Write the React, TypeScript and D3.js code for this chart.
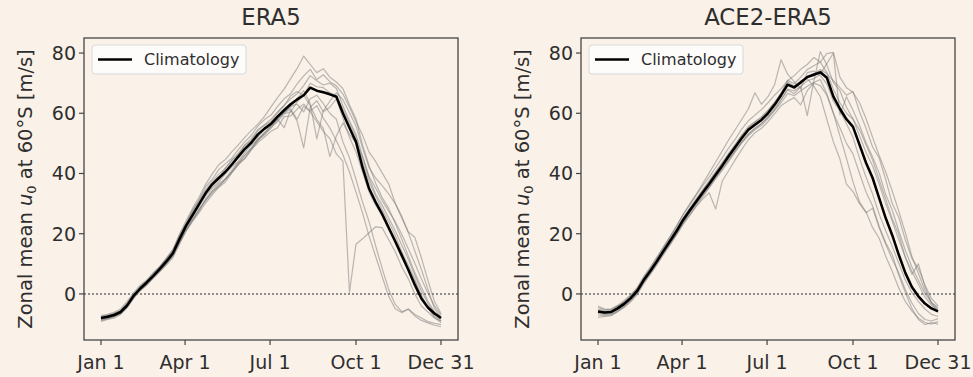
import React from "react";
import * as d3 from "d3";

// ---- Data ----
// Sample days: every 7 days from Jan 1, plus Dec 31 (day 364)
const SAMPLE_DAYS: number[] = [...d3.range(0, 358, 7), 364];

const X_TICK_DAYS = [0, 90, 181, 273, 364];
const X_TICK_LABELS = ["Jan 1", "Apr 1", "Jul 1", "Oct 1", "Dec 31"];
const Y_TICKS = [0, 20, 40, 60, 80];

const PANEL_TITLES = ["ERA5", "ACE2-ERA5"];

const ERA5_CLIM = [-8.0,-7.6,-7.0,-6.0,-3.8,-0.6,1.8,3.8,6.0,8.3,10.8,13.5,18.2,22.6,26.2,29.8,33.5,36.4,38.5,40.5,43.0,45.6,48.2,50.3,53.0,54.9,56.5,58.9,61.0,63.0,64.6,66.0,68.5,67.5,67.0,66.3,65.5,60.0,55.2,50.5,42.0,35.0,30.5,26.5,22.0,17.5,12.8,8.0,3.0,-1.5,-4.5,-6.5,-8.0];

const ERA5_M1 = [-7.2,-6.8,-6.1,-5.0,-2.5,0.4,2.9,4.6,7.1,9.0,11.9,14.8,19.5,23.4,27.8,31.2,35.6,38.0,41.3,43.2,45.1,47.9,50.5,52.7,55.8,57.9,59.4,62.3,64.8,66.5,69.8,72.4,74.6,71.2,72.8,70.5,69.1,66.4,62.0,57.3,52.8,47.1,44.0,40.2,36.5,30.1,25.8,20.4,14.2,8.1,1.5,-4.8,-7.9];
const ERA5_M2 = [-9.1,-8.5,-8.0,-6.8,-4.6,-1.5,1.0,2.9,5.2,7.4,9.6,12.1,16.5,20.8,24.1,27.0,30.2,32.9,35.4,37.1,40.2,42.8,45.0,47.9,50.3,52.1,54.0,55.2,58.9,59.1,61.4,63.0,60.8,62.5,58.4,55.1,50.9,46.2,40.5,33.8,26.9,19.2,12.5,5.8,-0.8,-4.9,-6.2,-5.1,-7.3,-8.8,-9.6,-10.4,-10.9];
const ERA5_M3 = [-8.4,-8.0,-7.5,-6.3,-4.2,-0.8,1.5,3.3,5.6,8.0,10.2,13.0,17.6,22.0,25.5,29.0,32.6,35.1,37.2,39.8,42.1,44.0,46.9,49.5,51.2,52.8,55.0,57.9,60.2,61.4,58.0,62.3,60.5,57.2,54.0,51.6,46.5,44.0,0.5,16.5,18.3,20.3,22.3,22.0,18.0,14.0,9.0,5.0,0.0,-4.0,-6.0,-8.0,-9.0];
const ERA5_M4 = [-7.5,-7.1,-6.4,-5.5,-3.0,0.0,2.4,4.4,6.8,9.2,11.8,14.6,19.8,24.2,28.4,32.1,36.4,39.8,42.9,44.6,47.2,49.5,52.0,54.3,56.4,59.0,62.1,65.2,68.0,71.5,74.9,79.0,76.2,73.5,74.8,72.0,70.4,68.2,62.8,58.1,49.5,42.6,36.8,32.0,28.4,23.5,18.2,12.6,7.0,2.2,-2.4,-6.0,-7.6];
const ERA5_M5 = [-8.6,-8.1,-7.4,-6.4,-4.1,-1.2,1.2,3.2,5.4,7.6,10.0,12.8,17.1,21.3,24.4,28.0,31.2,34.0,35.6,38.0,40.4,43.5,44.9,48.0,50.8,53.6,56.0,58.0,55.2,61.0,57.4,48.5,62.0,64.2,60.5,62.0,64.8,58.4,52.0,47.2,40.5,33.8,29.5,26.0,21.4,16.8,12.0,8.6,4.2,-1.0,-4.5,-7.2,-9.0];
const ERA5_M6 = [-7.9,-7.4,-6.8,-5.9,-3.6,-0.4,2.0,4.0,6.2,8.6,11.2,13.9,18.6,22.9,26.9,30.2,33.0,35.8,38.2,41.8,44.6,46.2,49.5,51.0,54.2,56.0,57.3,60.1,62.5,65.8,67.2,66.0,62.5,58.0,55.0,45.6,52.5,56.8,53.0,50.2,45.5,39.0,35.2,31.0,27.5,24.0,19.8,15.0,10.2,5.0,0.2,-4.0,-7.0];
const ERA5_M7 = [-8.2,-7.8,-7.2,-6.1,-3.9,-0.7,1.6,3.6,5.8,8.1,10.5,13.2,17.9,22.4,25.8,29.4,33.2,36.0,37.9,40.1,42.5,45.0,47.6,49.8,52.1,54.6,56.0,58.1,60.5,62.0,64.8,67.5,63.2,51.5,60.8,64.0,66.8,64.5,60.2,55.8,48.5,42.0,38.5,36.0,33.2,30.0,25.2,20.6,18.8,12.0,4.5,-2.5,-6.5];
const ERA5_M8 = [-8.8,-8.3,-7.6,-6.6,-4.4,-1.0,1.4,3.4,5.6,7.9,10.4,13.0,17.5,21.6,24.8,28.2,31.0,33.5,36.0,38.0,40.5,43.0,46.0,48.4,51.5,53.5,55.6,58.5,60.0,62.4,63.0,60.5,64.8,66.0,63.2,60.0,58.0,50.5,45.2,38.0,30.5,24.0,16.0,8.5,1.5,-3.5,-5.9,-5.0,-6.8,-8.0,-9.2,-9.8,-10.2];
const ERA5_M9 = [-7.6,-7.2,-6.6,-5.6,-3.4,-0.2,2.2,4.2,6.5,8.8,11.4,14.2,19.0,23.4,27.5,31.0,34.6,37.2,39.8,41.6,44.2,46.8,49.4,51.6,54.6,56.2,58.0,60.5,62.6,64.8,66.5,69.2,72.5,70.8,69.4,70.0,68.2,62.5,57.5,53.0,45.8,38.5,33.2,29.5,25.2,21.0,16.2,11.5,6.2,1.0,-3.2,-6.4,-8.4];
const ERA5_M10 = [-8.3,-7.9,-7.3,-6.3,-4.0,-0.9,1.4,3.5,5.7,7.8,10.2,12.6,17.0,21.0,24.6,27.5,31.5,34.2,36.6,38.2,41.0,43.6,46.0,48.5,51.2,53.2,55.4,57.2,59.8,60.5,63.8,66.0,70.0,68.8,68.5,66.8,66.0,61.4,56.8,52.2,44.0,37.2,32.5,28.0,24.0,19.5,14.0,9.5,4.8,-0.5,-4.6,-7.8,-9.5];

const ACE_CLIM = [-5.8,-6.2,-6.0,-4.8,-3.3,-1.4,1.0,4.6,7.6,10.8,14.2,17.5,20.8,24.5,27.6,30.6,33.6,36.5,39.6,42.6,45.8,48.8,51.8,54.5,56.2,57.8,60.0,62.8,66.0,69.5,68.6,70.2,72.0,72.8,73.6,71.8,65.5,61.5,58.0,55.5,49.5,43.5,38.5,31.8,25.2,19.5,13.0,7.0,2.3,-0.8,-3.2,-4.8,-5.8];

const ACE_M1 = [-4.5,-5.2,-5.0,-3.8,-2.2,-0.3,2.2,5.8,8.9,12.2,15.6,19.0,22.6,26.2,29.5,32.8,35.9,38.8,42.0,45.2,48.5,51.4,54.8,57.5,59.4,61.2,63.5,66.0,68.2,70.8,72.5,74.6,76.2,78.5,77.0,79.8,80.2,72.0,68.5,67.0,63.5,58.2,52.0,46.0,40.5,34.2,27.5,20.4,12.5,6.8,1.2,-2.8,-4.5];
const ACE_M2 = [-7.8,-7.5,-7.2,-5.9,-4.5,-2.6,-0.2,3.4,6.5,9.6,13.0,16.2,19.5,23.0,26.0,29.0,31.5,33.6,28.2,37.5,41.0,44.6,48.0,51.2,53.5,55.0,57.2,59.8,62.5,64.0,65.2,62.8,67.5,70.0,69.2,66.0,60.0,52.5,45.0,37.2,30.5,27.2,22.0,18.5,12.5,7.5,2.0,-2.5,-5.6,-8.0,-9.5,-10.0,-9.2];
const ACE_M3 = [-5.0,-5.6,-5.4,-4.2,-2.6,-0.6,1.8,5.4,8.6,11.9,15.5,19.0,22.4,26.4,29.8,33.0,36.6,40.2,43.8,47.5,51.2,54.6,58.0,61.5,66.8,63.0,65.5,69.5,77.8,73.0,70.5,68.2,73.5,74.0,72.5,69.8,64.0,60.8,56.5,52.0,45.0,38.8,33.2,26.5,21.0,15.8,10.2,4.6,0.5,-2.5,-5.0,-6.8,-7.5];
const ACE_M4 = [-6.2,-6.6,-6.4,-5.2,-3.6,-1.8,0.6,4.2,7.2,10.4,13.8,17.0,20.4,24.0,27.0,30.0,33.0,35.8,38.8,41.8,44.8,47.8,50.6,53.2,55.0,56.5,58.8,61.0,64.5,67.8,66.5,68.8,59.2,70.5,80.5,76.0,70.2,67.5,62.0,58.2,52.5,47.0,42.5,36.5,30.0,24.2,18.0,12.2,7.5,3.2,-1.0,-3.8,-5.4];
const ACE_M5 = [-6.5,-6.9,-6.7,-5.5,-4.0,-2.0,0.4,4.0,7.0,10.2,13.6,16.8,20.0,23.6,26.8,29.8,32.6,35.5,38.6,41.5,44.6,47.6,50.4,53.0,55.0,56.6,58.8,61.8,64.5,68.0,67.4,69.0,70.8,71.5,73.0,76.5,80.0,59.5,65.5,61.0,56.0,50.2,45.5,40.2,33.0,27.8,21.0,14.5,9.0,4.5,0.2,-3.0,-5.0];
const ACE_M6 = [-5.5,-5.9,-5.7,-4.5,-3.0,-1.0,1.4,5.0,8.0,11.4,14.8,18.2,21.5,25.2,28.4,31.6,34.6,37.5,40.6,43.6,46.8,49.8,52.8,55.6,57.2,58.8,61.0,63.5,66.8,70.5,69.0,70.8,71.5,69.0,65.5,58.0,50.5,44.8,36.5,34.0,30.0,27.0,28.5,22.0,16.5,11.5,7.0,1.5,-3.0,-6.5,-8.5,-9.0,-8.2];
const ACE_M7 = [-6.0,-6.4,-6.2,-5.0,-3.5,-1.6,0.8,4.4,7.4,10.6,14.0,17.4,20.8,24.5,27.5,30.4,33.4,36.4,39.4,42.4,45.6,48.6,51.6,54.2,56.0,57.6,60.0,62.6,65.8,69.2,68.2,70.0,72.2,73.0,74.5,73.2,70.8,68.5,66.0,67.2,60.5,55.0,48.8,45.2,38.0,30.0,25.5,18.0,11.8,8.5,3.0,-1.5,-4.0];
const ACE_M8 = [-7.0,-7.3,-7.0,-5.8,-4.2,-2.2,0.2,3.8,6.8,10.0,13.4,16.6,19.8,23.4,26.2,29.2,32.2,35.2,38.2,41.0,44.0,47.2,50.2,52.6,54.5,56.0,58.2,61.0,63.5,66.6,65.8,67.5,69.0,70.2,71.2,66.5,60.0,55.2,50.0,46.5,40.0,33.8,29.2,22.5,17.0,13.0,6.2,0.5,-4.8,-8.5,-10.2,-9.5,-10.0];
const ACE_M9 = [-5.6,-6.0,-5.8,-4.6,-3.1,-1.2,1.2,4.8,7.8,11.0,14.4,17.8,21.0,24.8,27.8,30.8,33.8,36.8,39.8,42.8,46.0,49.0,52.0,54.8,56.4,58.0,60.2,63.0,66.2,69.8,68.8,70.5,72.4,73.2,74.0,72.2,66.0,62.0,58.5,56.0,50.0,44.0,39.0,32.2,25.5,20.0,13.5,7.5,2.8,-0.5,-3.0,-4.6,-5.6];
const ACE_M10 = [-4.0,-5.0,-5.2,-4.0,-2.8,-0.8,1.6,5.2,8.2,11.4,14.8,18.2,21.6,25.2,28.2,31.2,34.4,37.4,40.4,43.4,46.4,49.4,52.6,55.2,57.0,58.6,60.8,63.6,66.5,71.0,69.8,72.0,74.5,75.8,77.0,73.5,68.0,63.5,60.0,58.0,54.5,49.5,44.5,38.0,31.5,25.0,19.8,12.2,6.5,10.0,2.5,-3.0,-6.0];

const ERA5_MEMBERS = [ERA5_M1, ERA5_M2, ERA5_M3, ERA5_M4, ERA5_M5, ERA5_M6, ERA5_M7, ERA5_M8, ERA5_M9, ERA5_M10];
const ACE_MEMBERS = [ACE_M1, ACE_M2, ACE_M3, ACE_M4, ACE_M5, ACE_M6, ACE_M7, ACE_M8, ACE_M9, ACE_M10];

// ---- Layout ----
const W = 973;
const H = 377;
const FRAME_TOP = 38;
const FRAME_BOTTOM = 340;
const PANEL_LEFTS = [84, 581];
const PANEL_WIDTH = 374;
const BG = "#faf1e8";
const TEXT = "#2e2e2e";
const FONT = "DejaVu Sans, sans-serif";

type PanelProps = { left: number; title: string; clim: number[]; members: number[][] };

function Panel({ left, title, clim, members }: PanelProps) {
  const x = d3.scaleLinear().domain([-18.2, 382.2]).range([left, left + PANEL_WIDTH]);
  const y = d3.scaleLinear().domain([-15.3, 85]).range([FRAME_BOTTOM, FRAME_TOP]);
  const line = d3
    .line<number>()
    .defined((v) => v != null && !isNaN(v))
    .x((_, i) => x(SAMPLE_DAYS[i]))
    .y((v) => y(v));
  const clipId = `clip-${left}`;
  const right = left + PANEL_WIDTH;
  const cx = (left + right) / 2;
  const cy = (FRAME_TOP + FRAME_BOTTOM) / 2;
  return (
    <g>
      <defs>
        <clipPath id={clipId}>
          <rect x={left} y={FRAME_TOP} width={PANEL_WIDTH} height={FRAME_BOTTOM - FRAME_TOP} />
        </clipPath>
      </defs>
      <text x={cx} y={25} textAnchor="middle" fontSize={22.8} fill={TEXT} fontFamily={FONT}>
        {title}
      </text>
      <g clipPath={`url(#${clipId})`}>
        <line x1={left} x2={right} y1={y(0)} y2={y(0)} stroke="#6e6e6e" strokeWidth={1.4} strokeDasharray="2,2" />
        {members.map((m, k) => (
          <path key={k} d={line(m.slice(0, SAMPLE_DAYS.length)) || ""} fill="none" stroke="#7a7a7a" strokeOpacity={0.5} strokeWidth={1.2} strokeLinejoin="round" />
        ))}
        <path d={line(clim) || ""} fill="none" stroke="#000" strokeWidth={2.5} strokeLinejoin="round" />
      </g>
      <rect x={left} y={FRAME_TOP} width={PANEL_WIDTH} height={FRAME_BOTTOM - FRAME_TOP} fill="none" stroke="#454545" strokeWidth={1.3} />
      {Y_TICKS.map((t) => (
        <g key={t}>
          <line x1={left - 5} x2={left} y1={y(t)} y2={y(t)} stroke="#454545" strokeWidth={1.2} />
          <text x={left - 8} y={y(t)} dy="0.36em" textAnchor="end" fontSize={19} fill={TEXT} fontFamily={FONT}>
            {t}
          </text>
        </g>
      ))}
      {X_TICK_DAYS.map((d, i) => (
        <g key={d}>
          <line x1={x(d)} x2={x(d)} y1={FRAME_BOTTOM} y2={FRAME_BOTTOM + 5} stroke="#454545" strokeWidth={1.2} />
          <text x={x(d)} y={369} textAnchor="middle" fontSize={19} fill={TEXT} fontFamily={FONT}>
            {X_TICK_LABELS[i]}
          </text>
        </g>
      ))}
      <text
        transform={`translate(${left - 52},${cy}) rotate(-90)`}
        textAnchor="middle"
        fontSize={19.5}
        fill={TEXT}
        fontFamily={FONT}
      >
        Zonal mean <tspan fontStyle="italic">u</tspan>
        <tspan dy={4} fontSize={13}>0</tspan>
        <tspan dy={-4}> at 60°S [m/s]</tspan>
      </text>
      {/* legend */}
      <rect x={left + 8} y={FRAME_TOP + 7} width={154} height={29} rx={3} fill="#ffffff" fillOpacity={0.8} stroke="#d8d8d8" strokeWidth={1} />
      <line x1={left + 14} x2={left + 48} y1={FRAME_TOP + 21.5} y2={FRAME_TOP + 21.5} stroke="#000" strokeWidth={2.5} />
      <text x={left + 60} y={FRAME_TOP + 27} fontSize={16} fill={TEXT} fontFamily={FONT}>
        Climatology
      </text>
    </g>
  );
}

export default function App() {
  return (
    <svg width={W} height={H} style={{ position: "absolute", left: 0, top: 0, background: BG }}>
      <rect x={0} y={0} width={W} height={H} fill={BG} />
      <Panel left={PANEL_LEFTS[0]} title={PANEL_TITLES[0]} clim={ERA5_CLIM} members={ERA5_MEMBERS} />
      <Panel left={PANEL_LEFTS[1]} title={PANEL_TITLES[1]} clim={ACE_CLIM} members={ACE_MEMBERS} />
    </svg>
  );
}
